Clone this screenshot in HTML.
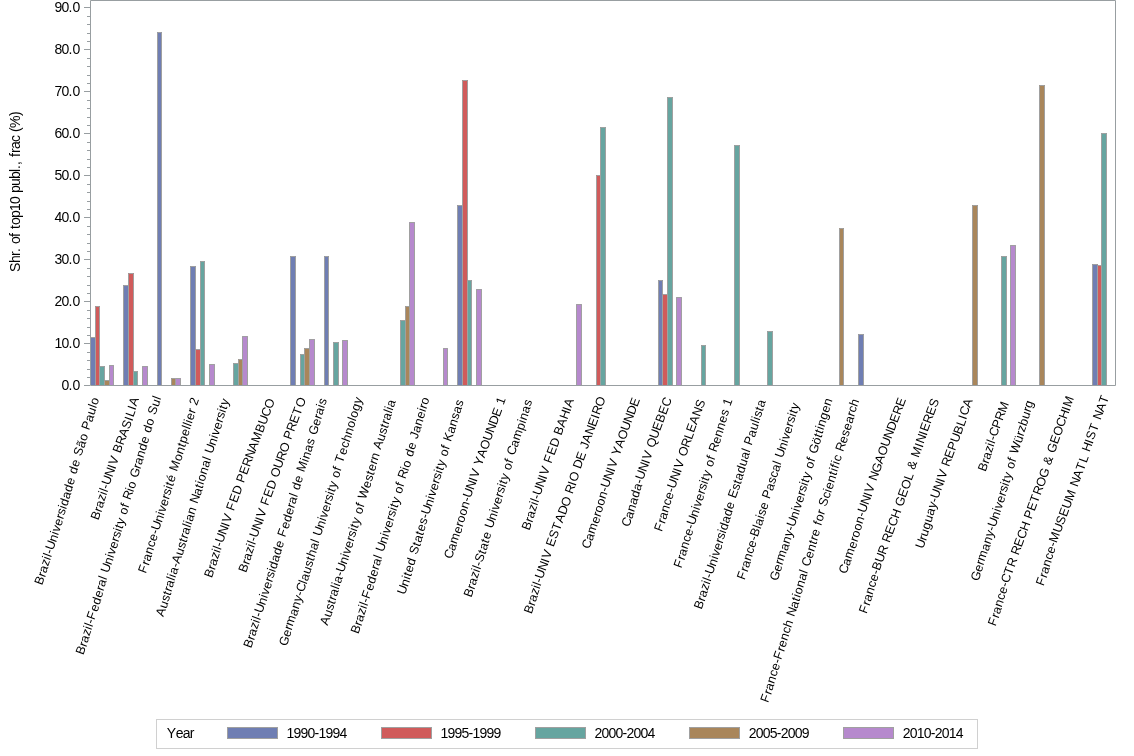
<!DOCTYPE html>
<html><head><meta charset="utf-8"><style>
html,body{margin:0;padding:0;background:#fff;}
svg{display:block;will-change:transform;}
.t{font-family:"Liberation Sans",sans-serif;font-size:14px;fill:#000;white-space:pre;}
.r{font-size:12.5px;}
</style></head><body>
<svg width="1134" height="756" viewBox="0 0 1134 756">
<rect x="0" y="0" width="1134" height="756" fill="#fff"/>
<rect x="90" y="337" width="6" height="48" fill="#6F7EB3"/>
<path d="M90.5 385V337.5H95.5V385" fill="none" stroke="#A0A0A0" stroke-width="1"/>
<rect x="95" y="306" width="5" height="79" fill="#D05B5B"/>
<path d="M95.5 385V306.5H99.5V385" fill="none" stroke="#A0A0A0" stroke-width="1"/>
<rect x="99" y="366" width="6" height="19" fill="#66A5A0"/>
<path d="M99.5 385V366.5H104.5V385" fill="none" stroke="#A0A0A0" stroke-width="1"/>
<rect x="104" y="380" width="6" height="5" fill="#A9865B"/>
<path d="M104.5 385V380.5H109.5V385" fill="none" stroke="#A0A0A0" stroke-width="1"/>
<rect x="109" y="365" width="5" height="20" fill="#B689CD"/>
<path d="M109.5 385V365.5H113.5V385" fill="none" stroke="#A0A0A0" stroke-width="1"/>
<rect x="123" y="285" width="6" height="100" fill="#6F7EB3"/>
<path d="M123.5 385V285.5H128.5V385" fill="none" stroke="#A0A0A0" stroke-width="1"/>
<rect x="128" y="273" width="6" height="112" fill="#D05B5B"/>
<path d="M128.5 385V273.5H133.5V385" fill="none" stroke="#A0A0A0" stroke-width="1"/>
<rect x="133" y="371" width="5" height="14" fill="#66A5A0"/>
<path d="M133.5 385V371.5H137.5V385" fill="none" stroke="#A0A0A0" stroke-width="1"/>
<rect x="142" y="366" width="6" height="19" fill="#B689CD"/>
<path d="M142.5 385V366.5H147.5V385" fill="none" stroke="#A0A0A0" stroke-width="1"/>
<rect x="157" y="32" width="5" height="353" fill="#6F7EB3"/>
<path d="M157.5 385V32.5H161.5V385" fill="none" stroke="#A0A0A0" stroke-width="1"/>
<rect x="171" y="378" width="5" height="7" fill="#A9865B"/>
<path d="M171.5 385V378.5H175.5V385" fill="none" stroke="#A0A0A0" stroke-width="1"/>
<rect x="175" y="378" width="6" height="7" fill="#B689CD"/>
<path d="M175.5 385V378.5H180.5V385" fill="none" stroke="#A0A0A0" stroke-width="1"/>
<rect x="190" y="266" width="6" height="119" fill="#6F7EB3"/>
<path d="M190.5 385V266.5H195.5V385" fill="none" stroke="#A0A0A0" stroke-width="1"/>
<rect x="195" y="349" width="6" height="36" fill="#D05B5B"/>
<path d="M195.5 385V349.5H200.5V385" fill="none" stroke="#A0A0A0" stroke-width="1"/>
<rect x="200" y="261" width="5" height="124" fill="#66A5A0"/>
<path d="M200.5 385V261.5H204.5V385" fill="none" stroke="#A0A0A0" stroke-width="1"/>
<rect x="209" y="364" width="6" height="21" fill="#B689CD"/>
<path d="M209.5 385V364.5H214.5V385" fill="none" stroke="#A0A0A0" stroke-width="1"/>
<rect x="233" y="363" width="6" height="22" fill="#66A5A0"/>
<path d="M233.5 385V363.5H238.5V385" fill="none" stroke="#A0A0A0" stroke-width="1"/>
<rect x="238" y="359" width="5" height="26" fill="#A9865B"/>
<path d="M238.5 385V359.5H242.5V385" fill="none" stroke="#A0A0A0" stroke-width="1"/>
<rect x="242" y="336" width="6" height="49" fill="#B689CD"/>
<path d="M242.5 385V336.5H247.5V385" fill="none" stroke="#A0A0A0" stroke-width="1"/>
<rect x="290" y="256" width="6" height="129" fill="#6F7EB3"/>
<path d="M290.5 385V256.5H295.5V385" fill="none" stroke="#A0A0A0" stroke-width="1"/>
<rect x="300" y="354" width="5" height="31" fill="#66A5A0"/>
<path d="M300.5 385V354.5H304.5V385" fill="none" stroke="#A0A0A0" stroke-width="1"/>
<rect x="304" y="348" width="6" height="37" fill="#A9865B"/>
<path d="M304.5 385V348.5H309.5V385" fill="none" stroke="#A0A0A0" stroke-width="1"/>
<rect x="309" y="339" width="6" height="46" fill="#B689CD"/>
<path d="M309.5 385V339.5H314.5V385" fill="none" stroke="#A0A0A0" stroke-width="1"/>
<rect x="324" y="256" width="5" height="129" fill="#6F7EB3"/>
<path d="M324.5 385V256.5H328.5V385" fill="none" stroke="#A0A0A0" stroke-width="1"/>
<rect x="333" y="342" width="6" height="43" fill="#66A5A0"/>
<path d="M333.5 385V342.5H338.5V385" fill="none" stroke="#A0A0A0" stroke-width="1"/>
<rect x="342" y="340" width="6" height="45" fill="#B689CD"/>
<path d="M342.5 385V340.5H347.5V385" fill="none" stroke="#A0A0A0" stroke-width="1"/>
<rect x="400" y="320" width="6" height="65" fill="#66A5A0"/>
<path d="M400.5 385V320.5H405.5V385" fill="none" stroke="#A0A0A0" stroke-width="1"/>
<rect x="405" y="306" width="5" height="79" fill="#A9865B"/>
<path d="M405.5 385V306.5H409.5V385" fill="none" stroke="#A0A0A0" stroke-width="1"/>
<rect x="409" y="222" width="6" height="163" fill="#B689CD"/>
<path d="M409.5 385V222.5H414.5V385" fill="none" stroke="#A0A0A0" stroke-width="1"/>
<rect x="443" y="348" width="5" height="37" fill="#B689CD"/>
<path d="M443.5 385V348.5H447.5V385" fill="none" stroke="#A0A0A0" stroke-width="1"/>
<rect x="457" y="205" width="6" height="180" fill="#6F7EB3"/>
<path d="M457.5 385V205.5H462.5V385" fill="none" stroke="#A0A0A0" stroke-width="1"/>
<rect x="462" y="80" width="6" height="305" fill="#D05B5B"/>
<path d="M462.5 385V80.5H467.5V385" fill="none" stroke="#A0A0A0" stroke-width="1"/>
<rect x="467" y="280" width="5" height="105" fill="#66A5A0"/>
<path d="M467.5 385V280.5H471.5V385" fill="none" stroke="#A0A0A0" stroke-width="1"/>
<rect x="476" y="289" width="6" height="96" fill="#B689CD"/>
<path d="M476.5 385V289.5H481.5V385" fill="none" stroke="#A0A0A0" stroke-width="1"/>
<rect x="576" y="304" width="6" height="81" fill="#B689CD"/>
<path d="M576.5 385V304.5H581.5V385" fill="none" stroke="#A0A0A0" stroke-width="1"/>
<rect x="596" y="175" width="5" height="210" fill="#D05B5B"/>
<path d="M596.5 385V175.5H600.5V385" fill="none" stroke="#A0A0A0" stroke-width="1"/>
<rect x="600" y="127" width="6" height="258" fill="#66A5A0"/>
<path d="M600.5 385V127.5H605.5V385" fill="none" stroke="#A0A0A0" stroke-width="1"/>
<rect x="658" y="280" width="5" height="105" fill="#6F7EB3"/>
<path d="M658.5 385V280.5H662.5V385" fill="none" stroke="#A0A0A0" stroke-width="1"/>
<rect x="662" y="294" width="6" height="91" fill="#D05B5B"/>
<path d="M662.5 385V294.5H667.5V385" fill="none" stroke="#A0A0A0" stroke-width="1"/>
<rect x="667" y="97" width="6" height="288" fill="#66A5A0"/>
<path d="M667.5 385V97.5H672.5V385" fill="none" stroke="#A0A0A0" stroke-width="1"/>
<rect x="676" y="297" width="6" height="88" fill="#B689CD"/>
<path d="M676.5 385V297.5H681.5V385" fill="none" stroke="#A0A0A0" stroke-width="1"/>
<rect x="701" y="345" width="5" height="40" fill="#66A5A0"/>
<path d="M701.5 385V345.5H705.5V385" fill="none" stroke="#A0A0A0" stroke-width="1"/>
<rect x="734" y="145" width="6" height="240" fill="#66A5A0"/>
<path d="M734.5 385V145.5H739.5V385" fill="none" stroke="#A0A0A0" stroke-width="1"/>
<rect x="767" y="331" width="6" height="54" fill="#66A5A0"/>
<path d="M767.5 385V331.5H772.5V385" fill="none" stroke="#A0A0A0" stroke-width="1"/>
<rect x="839" y="228" width="5" height="157" fill="#A9865B"/>
<path d="M839.5 385V228.5H843.5V385" fill="none" stroke="#A0A0A0" stroke-width="1"/>
<rect x="858" y="334" width="6" height="51" fill="#6F7EB3"/>
<path d="M858.5 385V334.5H863.5V385" fill="none" stroke="#A0A0A0" stroke-width="1"/>
<rect x="972" y="205" width="6" height="180" fill="#A9865B"/>
<path d="M972.5 385V205.5H977.5V385" fill="none" stroke="#A0A0A0" stroke-width="1"/>
<rect x="1001" y="256" width="6" height="129" fill="#66A5A0"/>
<path d="M1001.5 385V256.5H1006.5V385" fill="none" stroke="#A0A0A0" stroke-width="1"/>
<rect x="1010" y="245" width="6" height="140" fill="#B689CD"/>
<path d="M1010.5 385V245.5H1015.5V385" fill="none" stroke="#A0A0A0" stroke-width="1"/>
<rect x="1039" y="85" width="6" height="300" fill="#A9865B"/>
<path d="M1039.5 385V85.5H1044.5V385" fill="none" stroke="#A0A0A0" stroke-width="1"/>
<rect x="1092" y="264" width="6" height="121" fill="#6F7EB3"/>
<path d="M1092.5 385V264.5H1097.5V385" fill="none" stroke="#A0A0A0" stroke-width="1"/>
<rect x="1097" y="265" width="5" height="120" fill="#D05B5B"/>
<path d="M1097.5 385V265.5H1101.5V385" fill="none" stroke="#A0A0A0" stroke-width="1"/>
<rect x="1101" y="133" width="6" height="252" fill="#66A5A0"/>
<path d="M1101.5 385V133.5H1106.5V385" fill="none" stroke="#A0A0A0" stroke-width="1"/>
<path d="M90.5 385.5V0.5H1115.5V385.5Z" fill="none" stroke="#989EA1" stroke-width="1"/>
<path d="M84 385.5H90" stroke="#989EA1" stroke-width="1"/>
<text x="61.5 68.5 72.5" y="389.8" class="t">0.0</text>
<path d="M87 377.5H90" stroke="#989EA1" stroke-width="1"/>
<path d="M87 369.5H90" stroke="#989EA1" stroke-width="1"/>
<path d="M87 360.5H90" stroke="#989EA1" stroke-width="1"/>
<path d="M87 352.5H90" stroke="#989EA1" stroke-width="1"/>
<path d="M84 343.5H90" stroke="#989EA1" stroke-width="1"/>
<text x="54.5 61.5 68.5 72.5" y="347.8" class="t">10.0</text>
<path d="M87 335.5H90" stroke="#989EA1" stroke-width="1"/>
<path d="M87 327.5H90" stroke="#989EA1" stroke-width="1"/>
<path d="M87 318.5H90" stroke="#989EA1" stroke-width="1"/>
<path d="M87 310.5H90" stroke="#989EA1" stroke-width="1"/>
<path d="M84 301.5H90" stroke="#989EA1" stroke-width="1"/>
<text x="54.5 61.5 68.5 72.5" y="305.8" class="t">20.0</text>
<path d="M87 293.5H90" stroke="#989EA1" stroke-width="1"/>
<path d="M87 285.5H90" stroke="#989EA1" stroke-width="1"/>
<path d="M87 276.5H90" stroke="#989EA1" stroke-width="1"/>
<path d="M87 268.5H90" stroke="#989EA1" stroke-width="1"/>
<path d="M84 259.5H90" stroke="#989EA1" stroke-width="1"/>
<text x="54.5 61.5 68.5 72.5" y="263.8" class="t">30.0</text>
<path d="M87 251.5H90" stroke="#989EA1" stroke-width="1"/>
<path d="M87 243.5H90" stroke="#989EA1" stroke-width="1"/>
<path d="M87 234.5H90" stroke="#989EA1" stroke-width="1"/>
<path d="M87 226.5H90" stroke="#989EA1" stroke-width="1"/>
<path d="M84 217.5H90" stroke="#989EA1" stroke-width="1"/>
<text x="54.5 61.5 68.5 72.5" y="221.8" class="t">40.0</text>
<path d="M87 209.5H90" stroke="#989EA1" stroke-width="1"/>
<path d="M87 201.5H90" stroke="#989EA1" stroke-width="1"/>
<path d="M87 192.5H90" stroke="#989EA1" stroke-width="1"/>
<path d="M87 184.5H90" stroke="#989EA1" stroke-width="1"/>
<path d="M84 175.5H90" stroke="#989EA1" stroke-width="1"/>
<text x="54.5 61.5 68.5 72.5" y="179.8" class="t">50.0</text>
<path d="M87 167.5H90" stroke="#989EA1" stroke-width="1"/>
<path d="M87 159.5H90" stroke="#989EA1" stroke-width="1"/>
<path d="M87 150.5H90" stroke="#989EA1" stroke-width="1"/>
<path d="M87 142.5H90" stroke="#989EA1" stroke-width="1"/>
<path d="M84 133.5H90" stroke="#989EA1" stroke-width="1"/>
<text x="54.5 61.5 68.5 72.5" y="137.8" class="t">60.0</text>
<path d="M87 125.5H90" stroke="#989EA1" stroke-width="1"/>
<path d="M87 117.5H90" stroke="#989EA1" stroke-width="1"/>
<path d="M87 108.5H90" stroke="#989EA1" stroke-width="1"/>
<path d="M87 100.5H90" stroke="#989EA1" stroke-width="1"/>
<path d="M84 91.5H90" stroke="#989EA1" stroke-width="1"/>
<text x="54.5 61.5 68.5 72.5" y="95.8" class="t">70.0</text>
<path d="M87 83.5H90" stroke="#989EA1" stroke-width="1"/>
<path d="M87 75.5H90" stroke="#989EA1" stroke-width="1"/>
<path d="M87 66.5H90" stroke="#989EA1" stroke-width="1"/>
<path d="M87 58.5H90" stroke="#989EA1" stroke-width="1"/>
<path d="M84 49.5H90" stroke="#989EA1" stroke-width="1"/>
<text x="54.5 61.5 68.5 72.5" y="53.8" class="t">80.0</text>
<path d="M87 41.5H90" stroke="#989EA1" stroke-width="1"/>
<path d="M87 33.5H90" stroke="#989EA1" stroke-width="1"/>
<path d="M87 24.5H90" stroke="#989EA1" stroke-width="1"/>
<path d="M87 16.5H90" stroke="#989EA1" stroke-width="1"/>
<path d="M84 7.5H90" stroke="#989EA1" stroke-width="1"/>
<text x="54.5 61.5 68.5 72.5" y="11.8" class="t">90.0</text>
<text x="19.8 19.8 19.8 19.8 19.8 19.8 19.8 19.8 19.8 19.8 19.8 19.8 19.8 19.8 19.8 19.8 19.8 19.8 19.8 19.8 19.8 19.8 19.8 19.8 19.8 19.8 19.8 19.8 19.8" y="272.0 263.0 256.0 252.0 248.0 244.0 237.0 233.0 229.0 225.0 218.0 211.0 204.0 197.0 193.0 186.0 179.0 172.0 169.0 165.0 161.0 157.0 153.0 149.0 142.0 136.0 132.0 128.0 116.0" rotate="-90" class="t">Shr. of top10 publ., frac (%)</text>
<text x="41.9 44.9 45.9 47.9 49.9 50.9 51.9 52.9 55.9 57.9 58.9 60.9 62.9 63.9 65.9 66.9 68.9 70.9 72.9 74.9 75.9 77.9 79.9 80.9 83.9 85.9 87.9 88.9 91.9 93.9 95.9 96.9" y="585.8 577.8 573.8 566.8 560.8 557.8 554.8 550.8 542.8 535.8 532.8 526.8 519.8 515.8 509.8 506.8 499.8 492.8 485.8 478.8 474.8 467.8 460.8 456.8 448.8 441.8 434.8 430.8 422.8 415.8 408.8 405.8" rotate="-70.0" class="t r">Brazil-Universidade de São Paulo</text>
<text x="98.2 101.2 102.2 104.2 106.2 107.2 108.2 109.2 112.2 115.2 116.2 119.2 120.2 123.2 126.2 129.2 132.2 133.2 135.2 136.2" y="520.8 512.8 508.8 501.8 495.8 492.8 489.8 485.8 477.8 469.8 465.8 457.8 453.8 445.8 437.8 429.8 421.8 417.8 410.8 406.8" rotate="-70.0" class="t r">Brazil-UNIV BRASILIA</text>
<text x="83.2 86.2 87.2 89.2 91.2 92.2 93.2 94.2 97.2 99.2 101.2 103.2 104.2 106.2 107.2 108.2 111.2 113.2 114.2 116.2 118.2 119.2 121.2 122.2 123.2 125.2 126.2 128.2 129.2 130.2 133.2 134.2 136.2 137.2 140.2 141.2 143.2 145.2 147.2 149.2 150.2 152.2 154.2 155.2 158.2 160.2" y="655.6 647.6 643.6 636.6 630.6 627.6 624.6 620.6 612.6 605.6 598.6 591.6 587.6 580.6 577.6 573.6 565.6 558.6 555.6 549.6 542.6 538.6 532.6 529.6 525.6 519.6 515.6 508.6 504.6 500.6 492.6 489.6 482.6 478.6 469.6 465.6 458.6 451.6 444.6 437.6 433.6 426.6 419.6 415.6 407.6 400.6" rotate="-70.0" class="t r">Brazil-Federal University of Rio Grande do Sul</text>
<text x="145.7 148.7 149.7 151.7 153.7 155.7 157.7 158.7 161.7 163.7 164.7 166.7 168.7 169.7 171.7 172.7 173.7 175.7 176.7 180.7 182.7 184.7 185.7 187.7 189.7 190.7 191.7 192.7 194.7 195.7 196.7" y="574.1 566.1 562.1 555.1 548.1 542.1 535.1 531.1 523.1 516.1 513.1 507.1 500.1 496.1 490.1 487.1 483.1 476.1 472.1 462.1 455.1 448.1 444.1 437.1 430.1 427.1 424.1 421.1 414.1 410.1 406.1" rotate="-70.0" class="t r">France-Université Montpellier 2</text>
<text x="163.3 166.3 168.3 170.3 171.3 172.3 174.3 175.3 176.3 178.3 179.3 182.3 184.3 186.3 187.3 188.3 190.3 191.3 192.3 194.3 196.3 197.3 200.3 202.3 203.3 204.3 206.3 208.3 210.3 211.3 212.3 215.3 217.3 218.3 220.3 222.3 223.3 225.3 226.3 227.3" y="617.3 609.3 602.3 596.3 592.3 588.3 581.3 578.3 575.3 568.3 564.3 556.3 549.3 543.3 539.3 535.3 528.3 525.3 522.3 515.3 508.3 504.3 496.3 489.3 485.3 482.3 475.3 468.3 461.3 458.3 454.3 446.3 439.3 436.3 430.3 423.3 419.3 413.3 410.3 406.3" rotate="-70.0" class="t r">Australia-Australian National University</text>
<text x="211.7 214.7 215.7 217.7 219.7 220.7 221.7 222.7 225.7 228.7 229.7 232.7 233.7 236.7 239.7 242.7 243.7 246.7 249.7 252.7 255.7 258.7 262.7 265.7 268.7 271.7" y="578.5 570.5 566.5 559.5 553.5 550.5 547.5 543.5 535.5 527.5 523.5 515.5 511.5 503.5 495.5 487.5 483.5 475.5 467.5 459.5 451.5 443.5 433.5 425.5 417.5 409.5" rotate="-70.0" class="t r">Brazil-UNIV FED PERNAMBUCO</text>
<text x="246.1 249.1 250.1 252.1 254.1 255.1 256.1 257.1 260.1 263.1 264.1 267.1 268.1 271.1 274.1 277.1 278.1 281.1 284.1 287.1 290.1 291.1 294.1 297.1 300.1 303.1" y="573.2 565.2 561.2 554.2 548.2 545.2 542.2 538.2 530.2 522.2 518.2 510.2 506.2 498.2 490.2 482.2 478.2 469.2 461.2 453.2 444.2 440.2 432.2 424.2 416.2 408.2" rotate="-70.0" class="t r">Brazil-UNIV FED OURO PRETO</text>
<text x="251.1 254.1 255.1 257.1 259.1 260.1 261.1 262.1 265.1 267.1 268.1 270.1 272.1 273.1 275.1 276.1 278.1 280.1 282.1 284.1 285.1 288.1 290.1 292.1 294.1 295.1 297.1 298.1 299.1 301.1 303.1 304.1 308.1 309.1 311.1 313.1 315.1 316.1 319.1 321.1 322.1 324.1 325.1" y="648.7 640.7 636.7 629.7 623.7 620.7 617.7 613.7 605.7 598.7 595.7 589.7 582.7 578.7 572.7 569.7 562.7 555.7 548.7 541.7 537.7 529.7 522.7 515.7 508.7 504.7 497.7 494.7 490.7 483.7 476.7 472.7 462.7 459.7 452.7 445.7 439.7 435.7 426.7 419.7 415.7 408.7 405.7" rotate="-70.0" class="t r">Brazil-Universidade Federal de Minas Gerais</text>
<text x="286.5 289.5 291.5 292.5 296.5 298.5 300.5 302.5 303.5 306.5 307.5 309.5 311.5 313.5 314.5 316.5 318.5 319.5 320.5 323.5 325.5 326.5 328.5 330.5 331.5 333.5 334.5 335.5 337.5 338.5 340.5 341.5 342.5 345.5 347.5 349.5 351.5 353.5 355.5 356.5 358.5 360.5" y="646.8 637.8 630.8 626.8 616.8 609.8 602.8 596.8 592.8 584.8 581.8 574.8 567.8 561.8 557.8 550.8 543.8 540.8 536.8 528.8 521.8 518.8 512.8 505.8 501.8 495.8 492.8 488.8 482.8 478.8 471.8 467.8 463.8 455.8 448.8 442.8 435.8 428.8 421.8 418.8 411.8 404.8" rotate="-70.0" class="t r">Germany-Clausthal University of Technology</text>
<text x="327.5 330.5 332.5 334.5 335.5 336.5 338.5 339.5 340.5 342.5 343.5 346.5 348.5 349.5 351.5 353.5 354.5 356.5 357.5 358.5 360.5 361.5 363.5 364.5 365.5 369.5 371.5 373.5 374.5 376.5 377.5 379.5 380.5 383.5 385.5 387.5 388.5 389.5 391.5 392.5 393.5" y="625.9 617.9 610.9 604.9 600.9 596.9 589.9 586.9 583.9 576.9 572.9 564.9 557.9 554.9 548.9 541.9 537.9 531.9 528.9 524.9 518.9 514.9 507.9 503.9 499.9 488.9 481.9 475.9 471.9 464.9 460.9 453.9 449.9 441.9 434.9 428.9 424.9 420.9 413.9 410.9 407.9" rotate="-70.0" class="t r">Australia-University of Western Australia</text>
<text x="358.3 361.3 362.3 364.3 366.3 367.3 368.3 369.3 372.3 374.3 376.3 378.3 379.3 381.3 382.3 383.3 386.3 388.3 389.3 391.3 393.3 394.3 396.3 397.3 398.3 400.3 401.3 403.3 404.3 405.3 408.3 409.3 411.3 412.3 414.3 416.3 417.3 419.3 421.3 423.3 425.3 426.3 427.3" y="634.4 626.4 622.4 615.4 609.4 606.4 603.4 599.4 591.4 584.4 577.4 570.4 566.4 559.4 556.4 552.4 544.4 537.4 534.4 528.4 521.4 517.4 511.4 508.4 504.4 498.4 494.4 487.4 483.4 479.4 471.4 468.4 461.4 457.4 450.4 443.4 439.4 433.4 426.4 419.4 412.4 409.4 405.4" rotate="-70.0" class="t r">Brazil-Federal University of Rio de Janeiro</text>
<text x="404.8 407.8 409.8 410.8 411.8 413.8 415.8 416.8 419.8 420.8 422.8 423.8 425.8 427.8 428.8 431.8 433.8 434.8 436.8 438.8 439.8 441.8 442.8 443.8 445.8 446.8 448.8 449.8 450.8 453.8 455.8 457.8 459.8 461.8" y="595.2 587.2 580.2 577.2 573.2 566.2 559.2 555.2 547.2 543.2 536.2 532.2 525.2 519.2 515.2 507.2 500.2 497.2 491.2 484.2 480.2 474.2 471.2 467.2 461.2 457.2 450.2 446.2 442.2 434.2 427.2 420.2 414.2 407.2" rotate="-70.0" class="t r">United States-University of Kansas</text>
<text x="451.4 454.4 456.4 460.4 462.4 463.4 465.4 467.4 469.4 470.4 473.4 476.4 477.4 480.4 481.4 484.4 487.4 490.4 493.4 496.4 499.4 502.4 503.4" y="559.4 551.4 544.4 534.4 527.4 523.4 516.4 509.4 502.4 498.4 490.4 482.4 478.4 470.4 466.4 458.4 450.4 441.4 433.4 425.4 417.4 409.4 405.4" rotate="-70.0" class="t r">Cameroon-UNIV YAOUNDE 1</text>
<text x="471.3 474.3 475.3 477.3 479.3 480.3 481.3 482.3 485.3 486.3 488.3 489.3 491.3 492.3 495.3 497.3 498.3 500.3 502.3 503.3 505.3 506.3 507.3 509.3 510.3 512.3 513.3 514.3 517.3 519.3 523.3 525.3 526.3 528.3 530.3" y="598.0 590.0 586.0 579.0 573.0 570.0 567.0 563.0 555.0 551.0 544.0 540.0 533.0 529.0 521.0 514.0 511.0 505.0 498.0 494.0 488.0 485.0 481.0 475.0 471.0 464.0 460.0 456.0 448.0 441.0 431.0 424.0 421.0 414.0 407.0" rotate="-70.0" class="t r">Brazil-State University of Campinas</text>
<text x="529.3 532.3 533.3 535.3 537.3 538.3 539.3 540.3 543.3 546.3 547.3 550.3 551.3 554.3 557.3 560.3 561.3 564.3 567.3 570.3 571.3" y="530.9 522.9 518.9 511.9 505.9 502.9 499.9 495.9 487.9 479.9 475.9 467.9 463.9 455.9 447.9 439.9 435.9 427.9 419.9 411.9 407.9" rotate="-70.0" class="t r">Brazil-UNIV FED BAHIA</text>
<text x="531.4 534.4 535.4 537.4 539.4 540.4 541.4 542.4 545.4 548.4 549.4 552.4 553.4 556.4 559.4 562.4 565.4 568.4 571.4 572.4 575.4 576.4 579.4 580.4 583.4 586.4 587.4 589.4 592.4 595.4 598.4 599.4 602.4" y="614.4 606.4 602.4 595.4 589.4 586.4 583.4 579.4 571.4 563.4 559.4 551.4 547.4 539.4 531.4 523.4 515.4 507.4 498.4 494.4 486.4 482.4 473.4 469.4 461.4 453.4 449.4 443.4 435.4 427.4 419.4 415.4 407.4" rotate="-70.0" class="t r">Brazil-UNIV ESTADO RIO DE JANEIRO</text>
<text x="589.2 592.2 594.2 598.2 600.2 601.2 603.2 605.2 607.2 608.2 611.2 614.2 615.2 618.2 619.2 622.2 625.2 628.2 631.2 634.2 637.2" y="549.6 541.6 534.6 524.6 517.6 513.6 506.6 499.6 492.6 488.6 480.6 472.6 468.6 460.6 456.6 448.6 440.6 431.6 423.6 415.6 407.6" rotate="-70.0" class="t r">Cameroon-UNIV YAOUNDE</text>
<text x="629.0 632.0 634.0 636.0 638.0 640.0 642.0 643.0 646.0 649.0 650.0 653.0 654.0 657.0 660.0 663.0 666.0 669.0" y="527.6 519.6 512.6 505.6 498.6 491.6 484.6 480.6 472.6 464.6 460.6 452.6 448.6 439.6 431.6 423.6 415.6 407.6" rotate="-70.0" class="t r">Canada-UNIV QUEBEC</text>
<text x="661.7 664.7 665.7 667.7 669.7 671.7 673.7 674.7 677.7 680.7 681.7 684.7 685.7 688.7 691.7 693.7 696.7 699.7 702.7" y="532.2 524.2 520.2 513.2 506.2 500.2 493.2 489.2 481.2 473.2 469.2 461.2 457.2 448.2 440.2 433.2 425.2 417.2 409.2" rotate="-70.0" class="t r">France-UNIV ORLEANS</text>
<text x="681.2 684.2 685.2 687.2 689.2 691.2 693.2 694.2 697.2 699.2 700.2 702.2 704.2 705.2 707.2 708.2 709.2 711.2 712.2 714.2 715.2 716.2 719.2 721.2 723.2 725.2 727.2 729.2 730.2" y="568.7 560.7 556.7 549.7 542.7 536.7 529.7 525.7 517.7 510.7 507.7 501.7 494.7 490.7 484.7 481.7 477.7 471.7 467.7 460.7 456.7 452.7 444.7 437.7 430.7 423.7 416.7 410.7 406.7" rotate="-70.0" class="t r">France-University of Rennes 1</text>
<text x="701.4 704.4 705.4 707.4 709.4 710.4 711.4 712.4 715.4 717.4 718.4 720.4 722.4 723.4 725.4 726.4 728.4 730.4 732.4 734.4 735.4 738.4 740.4 741.4 743.4 745.4 747.4 749.4 750.4 751.4 754.4 756.4 758.4 759.4 760.4 762.4 763.4" y="609.9 601.9 597.9 590.9 584.9 581.9 578.9 574.9 566.9 559.9 556.9 550.9 543.9 539.9 533.9 530.9 523.9 516.9 509.9 502.9 498.9 490.9 484.9 480.9 473.9 466.9 459.9 452.9 449.9 445.9 437.9 430.9 423.9 420.9 417.9 411.9 407.9" rotate="-70.0" class="t r">Brazil-Universidade Estadual Paulista</text>
<text x="744.5 747.5 748.5 750.5 752.5 754.5 756.5 757.5 760.5 761.5 763.5 764.5 766.5 768.5 769.5 772.5 774.5 776.5 778.5 780.5 781.5 782.5 785.5 787.5 788.5 790.5 792.5 793.5 795.5 796.5 797.5" y="580.4 572.4 568.4 561.4 554.4 548.4 541.4 537.4 529.4 526.4 519.4 516.4 510.4 503.4 499.4 491.4 484.4 478.4 472.4 465.4 462.4 458.4 450.4 443.4 440.4 434.4 427.4 423.4 417.4 414.4 410.4" rotate="-70.0" class="t r">France-Blaise Pascal University</text>
<text x="777.2 780.2 782.2 783.2 787.2 789.2 791.2 793.2 794.2 797.2 799.2 800.2 802.2 804.2 805.2 807.2 808.2 809.2 811.2 812.2 814.2 815.2 816.2 819.2 821.2 822.2 823.2 824.2 826.2 828.2 830.2" y="581.6 572.6 565.6 561.6 551.6 544.6 537.6 531.6 527.6 519.6 512.6 509.6 503.6 496.6 492.6 486.6 483.6 479.6 473.6 469.6 462.6 458.6 454.6 445.6 438.6 434.6 430.6 427.6 420.6 413.6 406.6" rotate="-70.0" class="t r">Germany-University of Göttingen</text>
<text x="768.0 771.0 772.0 774.0 776.0 778.0 780.0 781.0 784.0 785.0 787.0 789.0 791.0 793.0 794.0 797.0 799.0 800.0 801.0 803.0 805.0 807.0 808.0 809.0 812.0 814.0 816.0 817.0 818.0 820.0 821.0 822.0 824.0 825.0 826.0 829.0 831.0 832.0 834.0 836.0 837.0 838.0 839.0 840.0 842.0 843.0 846.0 848.0 850.0 852.0 854.0 855.0 857.0" y="703.2 695.2 691.2 684.2 677.2 671.2 664.2 660.2 652.2 648.2 641.2 634.2 628.2 621.2 617.2 609.2 602.2 598.2 595.2 588.2 581.2 574.2 571.2 567.2 559.2 552.2 545.2 541.2 537.2 530.2 526.2 522.2 515.2 511.2 507.2 499.2 493.2 490.2 483.2 476.2 472.2 469.2 465.2 462.2 456.2 452.2 444.2 437.2 431.2 424.2 417.2 413.2 407.2" rotate="-70.0" class="t r">France-French National Centre for Scientific Research</text>
<text x="846.2 849.2 851.2 855.2 857.2 858.2 860.2 862.2 864.2 865.2 868.2 871.2 872.2 875.2 876.2 879.2 882.2 885.2 888.2 891.2 894.2 897.2 900.2 903.2" y="574.4 566.4 559.4 549.4 542.4 538.4 531.4 524.4 517.4 513.4 505.4 497.4 493.4 485.4 481.4 473.4 464.4 456.4 447.4 439.4 431.4 423.4 415.4 407.4" rotate="-70.0" class="t r">Cameroon-UNIV NGAOUNDERE</text>
<text x="866.4 869.4 870.4 872.4 874.4 876.4 878.4 879.4 882.4 885.4 888.4 889.4 892.4 895.4 898.4 901.4 902.4 905.4 908.4 911.4 913.4 914.4 917.4 918.4 922.4 923.4 926.4 927.4 930.4 933.4 936.4" y="614.2 606.2 602.2 595.2 588.2 582.2 575.2 571.2 563.2 555.2 547.2 543.2 535.2 527.2 519.2 511.2 507.2 498.2 490.2 481.2 474.2 470.2 462.2 458.2 448.2 444.2 436.2 432.2 424.2 416.2 408.2" rotate="-70.0" class="t r">France-BUR RECH GEOL &amp; MINIERES</text>
<text x="922.9 925.9 926.9 928.9 930.9 932.9 934.9 936.9 937.9 940.9 943.9 944.9 947.9 948.9 951.9 954.9 957.9 960.9 963.9 965.9 966.9 969.9" y="549.3 541.3 537.3 530.3 523.3 516.3 509.3 503.3 499.3 491.3 483.3 479.3 471.3 467.3 459.3 451.3 443.3 435.3 427.3 420.3 416.3 408.3" rotate="-70.0" class="t r">Uruguay-UNIV REPUBLICA</text>
<text x="985.4 988.4 989.4 991.4 993.4 994.4 995.4 996.4 999.4 1002.4 1005.4" y="472.2 464.2 460.2 453.2 447.2 444.2 441.2 437.2 429.2 421.2 413.2" rotate="-70.0" class="t r">Brazil-CPRM</text>
<text x="978.3 981.3 983.3 984.3 988.3 990.3 992.3 994.3 995.3 998.3 1000.3 1001.3 1003.3 1005.3 1006.3 1008.3 1009.3 1010.3 1012.3 1013.3 1015.3 1016.3 1017.3 1021.3 1023.3 1024.3 1026.3 1028.3 1030.3 1031.3" y="581.7 572.7 565.7 561.7 551.7 544.7 537.7 531.7 527.7 519.7 512.7 509.7 503.7 496.7 492.7 486.7 483.7 479.7 473.7 469.7 462.7 458.7 454.7 443.7 436.7 432.7 426.7 419.7 412.7 408.7" rotate="-70.0" class="t r">Germany-University of Würzburg</text>
<text x="995.5 998.5 999.5 1001.5 1003.5 1005.5 1007.5 1008.5 1011.5 1014.5 1017.5 1018.5 1021.5 1024.5 1027.5 1030.5 1031.5 1034.5 1037.5 1040.5 1043.5 1046.5 1049.5 1050.5 1053.5 1054.5 1057.5 1060.5 1063.5 1066.5 1069.5 1070.5" y="626.8 618.8 614.8 607.8 600.8 594.8 587.8 583.8 575.8 567.8 559.8 555.8 547.8 539.8 531.8 523.8 519.8 511.8 503.8 495.8 487.8 478.8 469.8 465.8 457.8 453.8 444.8 436.8 427.8 419.8 411.8 407.8" rotate="-70.0" class="t r">France-CTR RECH PETROG &amp; GEOCHIM</text>
<text x="1043.4 1046.4 1047.4 1049.4 1051.4 1053.4 1055.4 1056.4 1060.4 1063.4 1066.4 1069.4 1072.4 1076.4 1077.4 1080.4 1083.4 1086.4 1088.4 1089.4 1092.4 1093.4 1096.4 1099.4 1100.4 1103.4 1106.4" y="586.6 578.6 574.6 567.6 560.6 554.6 547.6 543.6 533.6 525.6 517.6 509.6 501.6 491.6 487.6 479.6 471.6 463.6 456.6 452.6 444.6 440.6 432.6 424.6 420.6 412.6 404.6" rotate="-70.0" class="t r">France-MUSEUM NATL HIST NAT</text>
<rect x="156.5" y="719.5" width="821" height="29" fill="none" stroke="#D0D0D0" stroke-width="1"/>
<text x="166.8 175.8 182.8 189.8" y="738" class="t">Year</text>
<rect x="227" y="727" width="51" height="12" fill="#6F7EB3"/>
<rect x="227.5" y="727.5" width="50" height="11" fill="none" stroke="#A0A0A0" stroke-width="1"/>
<text x="286.4 293.4 300.4 307.4 314.4 318.4 325.4 332.4 339.4" y="738" class="t">1990-1994</text>
<rect x="381" y="727" width="51" height="12" fill="#D05B5B"/>
<rect x="381.5" y="727.5" width="50" height="11" fill="none" stroke="#A0A0A0" stroke-width="1"/>
<text x="440.5 447.5 454.5 461.5 468.5 472.5 479.5 486.5 493.5" y="738" class="t">1995-1999</text>
<rect x="535" y="727" width="51" height="12" fill="#66A5A0"/>
<rect x="535.5" y="727.5" width="50" height="11" fill="none" stroke="#A0A0A0" stroke-width="1"/>
<text x="594.6 601.6 608.6 615.6 622.6 626.6 633.6 640.6 647.6" y="738" class="t">2000-2004</text>
<rect x="689" y="727" width="51" height="12" fill="#A9865B"/>
<rect x="689.5" y="727.5" width="50" height="11" fill="none" stroke="#A0A0A0" stroke-width="1"/>
<text x="748.7 755.7 762.7 769.7 776.7 780.7 787.7 794.7 801.7" y="738" class="t">2005-2009</text>
<rect x="843" y="727" width="51" height="12" fill="#B689CD"/>
<rect x="843.5" y="727.5" width="50" height="11" fill="none" stroke="#A0A0A0" stroke-width="1"/>
<text x="902.8 909.8 916.8 923.8 930.8 934.8 941.8 948.8 955.8" y="738" class="t">2010-2014</text>
</svg>
</body></html>
